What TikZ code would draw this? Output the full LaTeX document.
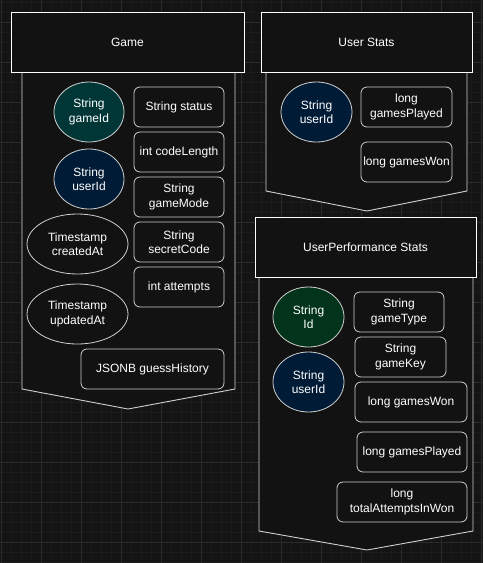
\documentclass[tikz,border=0pt]{standalone}
\usepackage{fontspec}
\setmainfont{Liberation Sans}
\usetikzlibrary{shapes.geometric}
\definecolor{bg}{HTML}{141414}
\definecolor{gridminor}{HTML}{1B1B1B}
\definecolor{gridmajor}{HTML}{2B2B2B}
\definecolor{boxfill}{HTML}{121212}
\definecolor{edgegray}{HTML}{CFCFCF}
\definecolor{tealfill}{HTML}{003636}
\definecolor{navyfill}{HTML}{001B36}
\definecolor{greenfill}{HTML}{02331B}
\begin{document}
\begin{tikzpicture}[x=1pt,y=-1pt,
  every node/.style={text=white, font=\fontsize{12}{14.4}\selectfont, align=center, inner sep=0pt},
  header/.style={draw=white, fill=boxfill, line width=0.9pt, rectangle},
  body/.style={draw=edgegray, fill=boxfill, line width=0.9pt},
  attr/.style={draw=edgegray, fill=boxfill, line width=0.8pt, rounded corners=6pt, rectangle},
  keyattr/.style={draw=edgegray, line width=0.8pt, ellipse},
  gminor/.style={draw=gridminor, line width=0.5pt},
  gmajor/.style={draw=gridmajor, line width=0.8pt}]
\useasboundingbox (0,0) rectangle (483,563);
\fill[bg] (0,0) rectangle (483,563);
\foreach \x in {1.7,11.7,...,481.7} \draw[gminor] (\x,0) -- (\x,563);
\foreach \y in {2.3,12.3,...,562.3} \draw[gminor] (0,\y) -- (483,\y);
\foreach \x in {1.7,41.7,...,481.7} \draw[gmajor] (\x,0) -- (\x,563);
\foreach \y in {22.3,62.3,...,562.3} \draw[gmajor] (0,\y) -- (483,\y);

% ---------- Game ----------
\coordinate (gtl) at (22,72); \coordinate (gtr) at (235,72);
\coordinate (gbr) at (235,389); \coordinate (gtip) at (128,409); \coordinate (gbl) at (22,389);
\draw[body] (gtl) -- (gbl) -- (gtip) -- (gbr) -- (gtr);
\node[header, minimum width=233pt, minimum height=60pt] (game) at (127.5,42) {Game};
\node[keyattr, fill=tealfill, minimum width=70pt, minimum height=60pt] (gameId) at (89,112) {String\\gameId};
\node[keyattr, fill=navyfill, minimum width=70pt, minimum height=60pt] (guserId) at (89,179) {String\\userId};
\node[keyattr, fill=boxfill, minimum width=101pt, minimum height=60pt] (created) at (77.5,244) {Timestamp\\createdAt};
\node[keyattr, fill=boxfill, minimum width=101pt, minimum height=60pt] (updated) at (77.5,314) {Timestamp\\updatedAt};
\node[attr, minimum width=90pt, minimum height=40pt] (status) at (179,107) {String status};
\node[attr, minimum width=90pt, minimum height=40pt] (codelen) at (179,152) {int codeLength};
\node[attr, minimum width=90pt, minimum height=40pt] (mode) at (179,197) {String\\gameMode};
\node[attr, minimum width=90pt, minimum height=40pt] (secret) at (179,242) {String\\secretCode};
\node[attr, minimum width=90pt, minimum height=40pt] (attempts) at (179,287) {int attempts};
\node[attr, minimum width=143pt, minimum height=40pt] (guess) at (152.5,369) {JSONB guessHistory};

% ---------- User Stats ----------
\coordinate (utl) at (266,72); \coordinate (utr) at (467,72);
\coordinate (ubr) at (467,191); \coordinate (utip) at (367,211); \coordinate (ubl) at (266,191);
\draw[body] (utl) -- (ubl) -- (utip) -- (ubr) -- (utr);
\node[header, minimum width=211pt, minimum height=60pt] (ustats) at (366.5,42) {User Stats};
\node[keyattr, fill=navyfill, minimum width=71pt, minimum height=60pt] (uuserId) at (316.5,112) {String\\userId};
\node[attr, minimum width=91pt, minimum height=40pt] (uplayed) at (406.5,107) {long\\gamesPlayed};
\node[attr, minimum width=91pt, minimum height=40pt] (uwon) at (406.5,162) {long gamesWon};

% ---------- UserPerformance Stats ----------
\coordinate (ptl) at (259,277); \coordinate (ptr) at (473,277);
\coordinate (pbr) at (473,531); \coordinate (ptip) at (367,550); \coordinate (pbl) at (259,531);
\draw[body] (ptl) -- (pbl) -- (ptip) -- (pbr) -- (ptr);
\node[header, minimum width=221pt, minimum height=60pt] (pstats) at (365.5,247) {UserPerformance Stats};
\node[keyattr, fill=greenfill, minimum width=71pt, minimum height=60pt] (pid) at (308.5,317) {String\\Id};
\node[keyattr, fill=navyfill, minimum width=71pt, minimum height=60pt] (puserId) at (308.5,382) {String\\userId};
\node[attr, minimum width=90pt, minimum height=40pt] (ptype) at (399,312) {String\\gameType};
\node[attr, minimum width=91pt, minimum height=40pt] (pkey) at (400.5,357) {String\\gameKey};
\node[attr, minimum width=112pt, minimum height=40pt] (pwon) at (411,402) {long gamesWon};
\node[attr, minimum width=110pt, minimum height=40pt] (pplayed) at (412,452) {long gamesPlayed};
\node[attr, minimum width=130pt, minimum height=40pt] (ptotal) at (402,502) {long\\totalAttemptsInWon};
\end{tikzpicture}
\end{document}
